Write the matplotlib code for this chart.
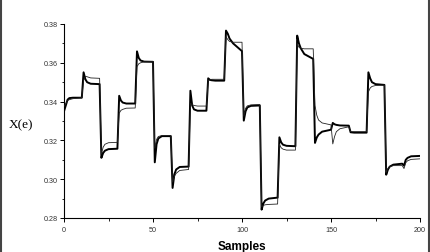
import matplotlib
matplotlib.use("Agg")
import matplotlib.pyplot as plt
from matplotlib.lines import Line2D
from matplotlib.ticker import MultipleLocator

# sample positions where values were read (start + 5 points per 10-sample block)
samples = [0,
           1, 2, 3, 5, 10,      11, 12, 13, 15, 20,
           21, 22, 23, 25, 30,  31, 32, 33, 35, 40,
           41, 42, 43, 45, 50,  51, 52, 53, 55, 60,
           61, 62, 63, 65, 70,  71, 72, 73, 75, 80,
           81, 82, 83, 85, 90,  91, 92, 93, 95, 100,
           101, 102, 103, 105, 110,  111, 112, 113, 115, 120,
           121, 122, 123, 125, 130,  131, 132, 133, 135, 140,
           141, 142, 143, 145, 150,  151, 152, 153, 155, 160,
           161, 162, 163, 165, 170,  171, 172, 173, 175, 180,
           181, 182, 183, 185, 190,  191, 192, 193, 195, 200]

# thick curve
x_thick = [0.335,
           0.338, 0.341, 0.3418, 0.342, 0.342,
           0.3551, 0.3515, 0.350, 0.3492, 0.349,
           0.311, 0.3135, 0.3147, 0.3155, 0.3157,
           0.343, 0.3405, 0.3395, 0.339, 0.339,
           0.3659, 0.3625, 0.3612, 0.3606, 0.3605,
           0.3087, 0.318, 0.321, 0.3222, 0.3222,
           0.2955, 0.3025, 0.305, 0.3063, 0.3065,
           0.3456, 0.338, 0.336, 0.3353, 0.3353,
           0.352, 0.3512, 0.351, 0.3508, 0.3508,
           0.3766, 0.375, 0.3725, 0.370, 0.366,
           0.3302, 0.335, 0.337, 0.3378, 0.338,
           0.2843, 0.2875, 0.289, 0.290, 0.2905,
           0.3216, 0.319, 0.3178, 0.3172, 0.317,
           0.374, 0.370, 0.3675, 0.3645, 0.362,
           0.3187, 0.3215, 0.323, 0.3245, 0.3255,
           0.329, 0.3283, 0.328, 0.3277, 0.3276,
           0.3242, 0.3241, 0.324, 0.324, 0.324,
           0.3551, 0.352, 0.350, 0.349, 0.3486,
           0.3023, 0.305, 0.3065, 0.3075, 0.308,
           0.307, 0.310, 0.311, 0.3118, 0.312]

# thin curve
x_thin = [0.3375,
          0.339, 0.3405, 0.341, 0.3415, 0.342,
          0.351, 0.353, 0.3528, 0.3522, 0.352,
          0.313, 0.3165, 0.318, 0.3188, 0.319,
          0.334, 0.3355, 0.336, 0.3366, 0.3367,
          0.358, 0.3595, 0.360, 0.3605, 0.3606,
          0.316, 0.3205, 0.322, 0.3225, 0.3225,
          0.2985, 0.3015, 0.303, 0.3045, 0.305,
          0.339, 0.3385, 0.338, 0.3377, 0.3377,
          0.351, 0.3512, 0.3515, 0.3515, 0.3515,
          0.3735, 0.372, 0.371, 0.3706, 0.3706,
          0.3325, 0.3365, 0.3378, 0.3383, 0.3385,
          0.2858, 0.2865, 0.2868, 0.287, 0.2872,
          0.318, 0.3162, 0.3155, 0.315, 0.315,
          0.370, 0.368, 0.3675, 0.3672, 0.3672,
          0.338, 0.333, 0.3305, 0.329, 0.328,
          0.3182, 0.322, 0.3245, 0.326, 0.327,
          0.3245, 0.3245, 0.3245, 0.3245, 0.3245,
          0.345, 0.347, 0.3478, 0.3483, 0.3485,
          0.3035, 0.3055, 0.3065, 0.307, 0.307,
          0.3055, 0.3085, 0.3095, 0.3102, 0.3105]

xticks = [0, 50, 100, 150, 200]
yticks = [0.28, 0.30, 0.32, 0.34, 0.36, 0.38]

fig = plt.figure(figsize=(4.31, 2.53), dpi=100)
ax = fig.add_axes([0.1485, 0.1344, 0.826, 0.7668])

ax.plot(samples, x_thick, color="black", lw=1.4, zorder=3)
ax.plot(samples, x_thin, color="#222222", lw=0.6, zorder=4)

ax.set_xlim(0, 200)
ax.set_ylim(0.28, 0.38)
ax.set_xticks(xticks)
ax.set_yticks(yticks)
ax.set_yticklabels(["%.2f" % v for v in yticks])
ax.xaxis.set_minor_locator(MultipleLocator(25))
ax.yaxis.set_minor_locator(MultipleLocator(0.01))

for s in ["top", "right"]:
    ax.spines[s].set_visible(False)
for s in ["left", "bottom"]:
    ax.spines[s].set_linewidth(0.8)

ax.tick_params(which="major", direction="out", length=3, width=0.7,
               labelsize=5.2, labelcolor="#333333", pad=1.2,
               labelfontfamily="Liberation Sans")
ax.tick_params(axis="x", which="major", pad=2.5)
ax.tick_params(which="minor", direction="out", length=1.8, width=0.6)

ax.set_xlabel("Samples", fontsize=8.5, fontweight="bold",
              family="Liberation Sans", labelpad=5)
fig.text(0.049, 0.505, "X(e)", fontsize=9.5, family="Liberation Serif",
         ha="center", va="center")

# outer frame lines on left and right
fig.add_artist(Line2D([0.002, 0.002], [0, 1], transform=fig.transFigure,
                      color="#444444", lw=1.5))
fig.add_artist(Line2D([0.9942, 0.9942], [0, 1], transform=fig.transFigure,
                      color="#444444", lw=1.5))

fig.savefig("out.png", dpi=100)
